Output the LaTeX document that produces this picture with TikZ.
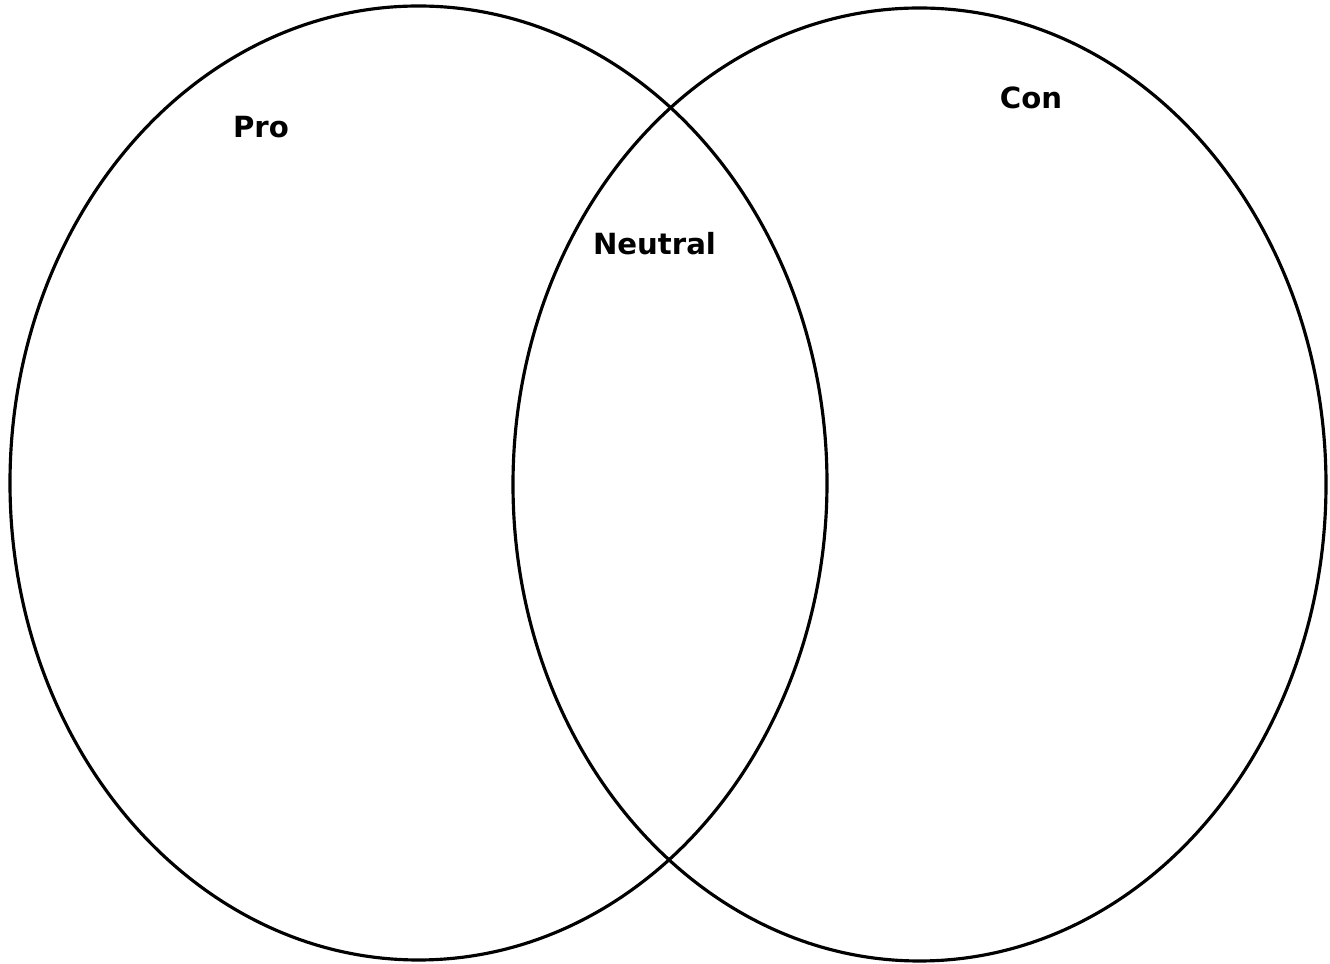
\documentclass[tikz,border=0pt]{standalone}
\usepackage{fontspec}
\setsansfont{DejaVu Sans}
\usetikzlibrary{positioning}

\begin{document}
\begin{tikzpicture}[
    ring/.style={draw=black, line width=0.9pt},
    lbl/.style={font=\sffamily\bfseries\fontsize{8.3}{10}\selectfont, inner sep=0pt},
  ]
    \useasboundingbox (0,0) rectangle (13.3,9.64);
    % ─── Circles ───
    \coordinate (proC) at (4.185, 4.81);
    \coordinate (conC) at (9.195, 4.795);
    \draw[ring] (proC) ellipse [x radius=4.085, y radius=4.77];
    \draw[ring] (conC) ellipse [x radius=4.065, y radius=4.765];
    % ─── Labels ───
    \node[lbl] (pro) at (2.61, 8.37) {Pro};
    \node[lbl] (con) at (10.31, 8.66) {Con};
    \node[lbl] (neutral) at (6.545, 7.20) {Neutral};
  \end{tikzpicture}
\end{document}
